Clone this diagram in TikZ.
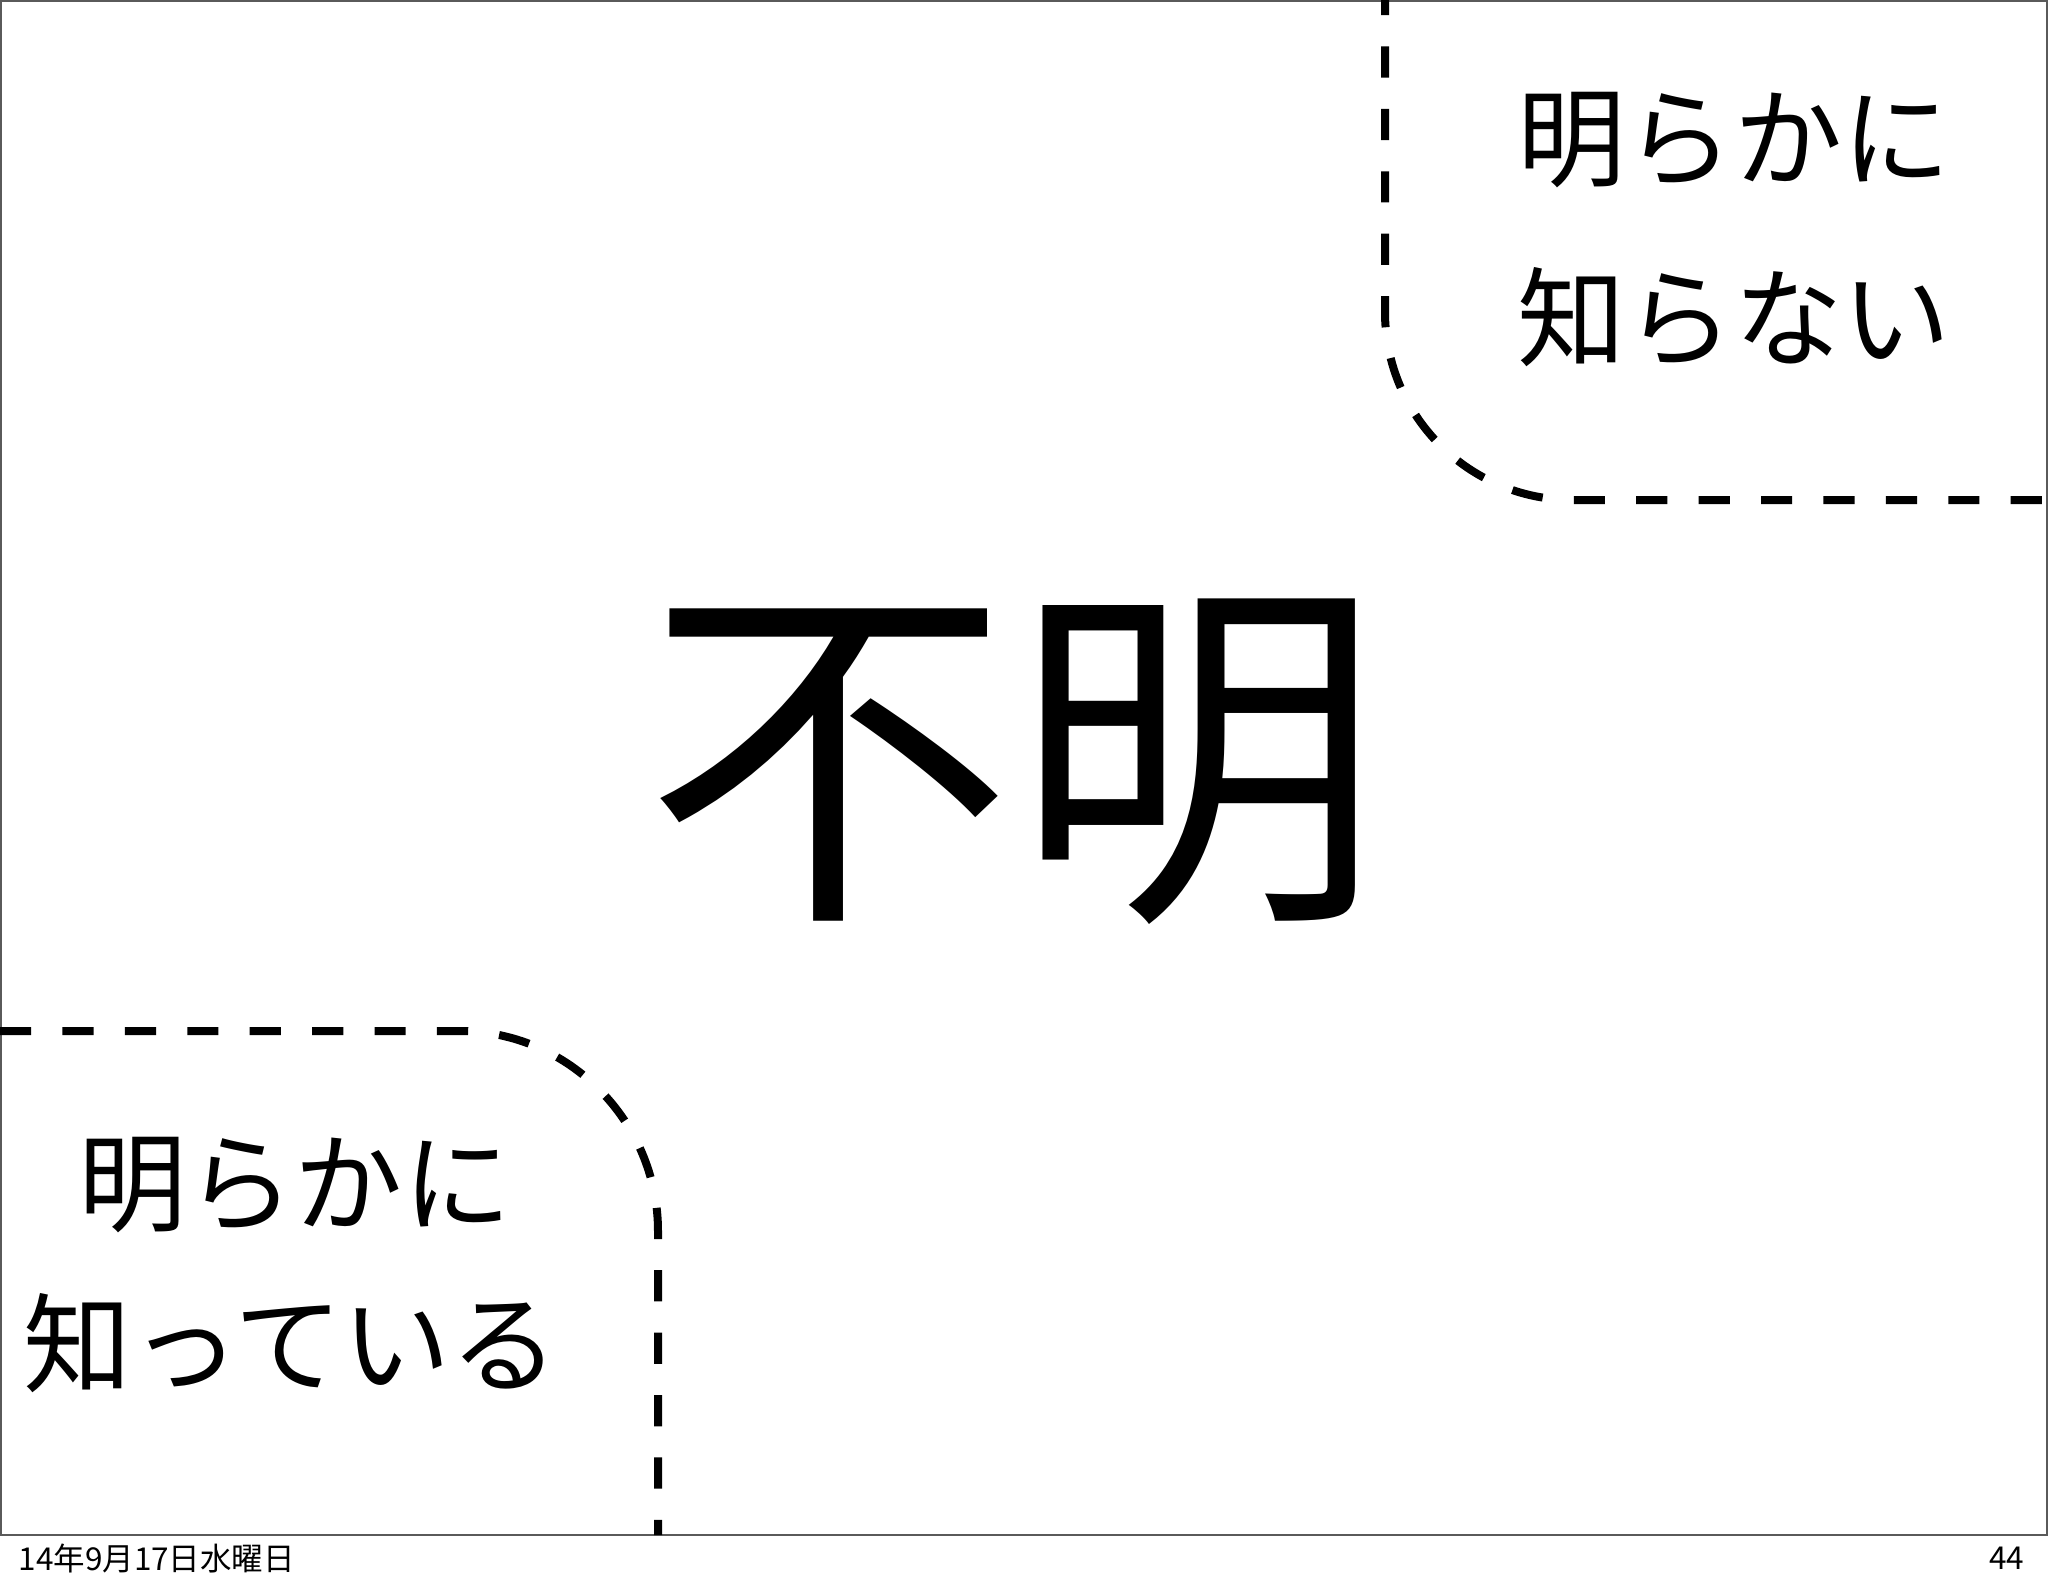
\documentclass[tikz,border=0pt]{standalone}
\usepackage{fontspec}
\usepackage{tikz}
\usetikzlibrary{positioning}
\newfontfamily\jpfont{Noto Sans CJK JP}
\definecolor{framegray}{RGB}{90,90,90}

\begin{document}
\begin{tikzpicture}[
    x=0.0125cm, y=-0.0125cm,
    bigtext/.style={inner sep=0pt, font=\jpfont\fontsize{131pt}{140pt}\selectfont},
    cornertext/.style={inner sep=0pt, font=\jpfont\fontsize{38.5pt}{44pt}\selectfont},
    footer/.style={inner sep=0pt, font=\jpfont\fontsize{11.2pt}{13pt}\selectfont},
    border/.style={draw=framegray, line width=0.025cm},
    dashline/.style={line width=0.1cm, dash pattern=on 0.39cm off 0.39cm}
]
    \useasboundingbox (0,0) rectangle (2048,1587);
    \draw[border] (1,1) rectangle (2047,1535);

    \node[bigtext] (unclear) at (1013,762) {不明};

    \node[cornertext] (unknown1) at (1734,140) {明らかに};
    \node[cornertext] (unknown2) at (1734,317) {知らない};
    \node[cornertext] (known1) at (295,1185) {明らかに};
    \node[cornertext] (known2) at (291,1343) {知っている};

    \node[footer, anchor=west] (date) at (18,1558) {14年9月17日水曜日};
    \node[footer, anchor=east] (page) at (2025,1558) {44};

    % region boundaries
    \coordinate (trtop) at (1385,0);
    \coordinate (trright) at (2048,500);
    \coordinate (blleft) at (0,1031);
    \coordinate (blbottom) at (658,1535);
    \draw[dashline, dash phase=0.2cm] (trtop) -- (1385,312) .. controls (1385,416) and (1469,500) .. (1573,500) -- (trright);
    \draw[dashline] (blleft) -- (460,1031) .. controls (569,1031) and (658,1122) .. (658,1231) -- (blbottom);
\end{tikzpicture}
\end{document}
